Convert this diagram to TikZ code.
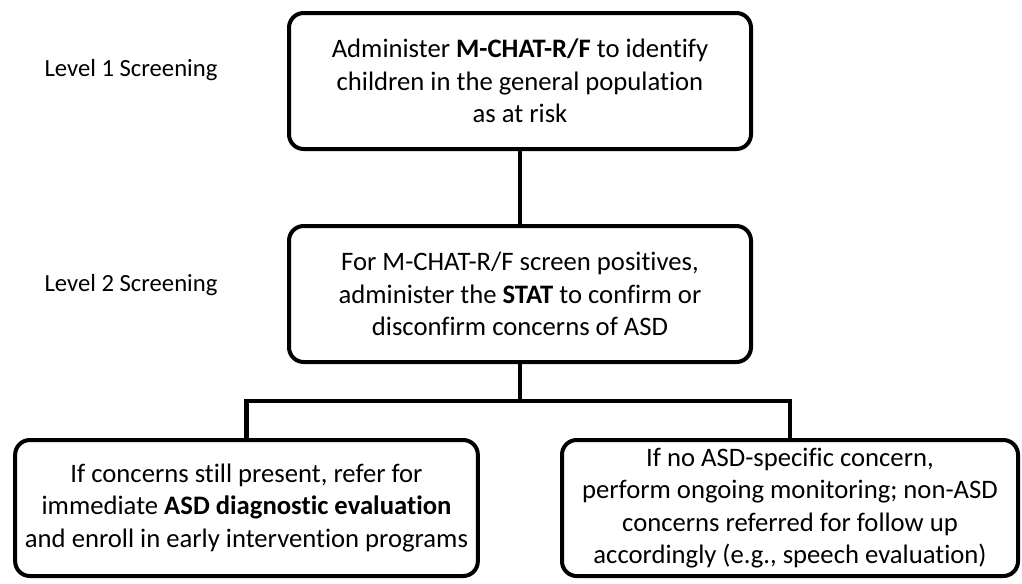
\documentclass[tikz,border=0pt]{standalone}
\usepackage{fontspec}
\setmainfont{Carlito}[Ligatures=NoCommon]
\begin{document}
\begin{tikzpicture}[x=0.75pt,y=-0.75pt,
main box/.style = {draw, rounded corners=11pt, line width=3pt, align=center, inner sep=0pt, minimum height=102pt, font=\fontsize{20}{24.4}\selectfont},
level label/.style = {font=\fontsize{18.5}{24}\selectfont}]
\useasboundingbox (0,0) rectangle (1022,583);

\node[main box, minimum width=346.5pt] (screen1) at (520,81) {Administer \textbf{M-CHAT-R/F} to identify\\children in the general population\\as at risk};
\node[main box, minimum width=346.5pt] (screen2) at (520,294) {For M-CHAT-R/F screen positives,\\administer the \textbf{STAT} to confirm or\\disconfirm concerns of ASD};
\node[main box, minimum width=347pt] (refer) at (246.5,508) {If concerns still present, refer for\\immediate \textbf{ASD diagnostic evaluation}\\and enroll in early intervention programs};
\node[main box, minimum width=342pt] (monitor) at (790,508) {If no ASD-specific concern,\\perform ongoing monitoring; non-ASD\\concerns referred for follow up\\accordingly (e.g., speech evaluation)};
\node[level label] (lvl1) at (131,70) {Level 1 Screening};
\node[level label] (lvl2) at (131,285) {Level 2 Screening};
\coordinate (split) at (520,401);

\path[draw, line width=3.5pt]
(screen1) edge (screen2)
(screen2) edge (split);
\draw[line width=3.5pt] (refer.north) |- (split) -| (monitor.north);
\end{tikzpicture}
\end{document}
